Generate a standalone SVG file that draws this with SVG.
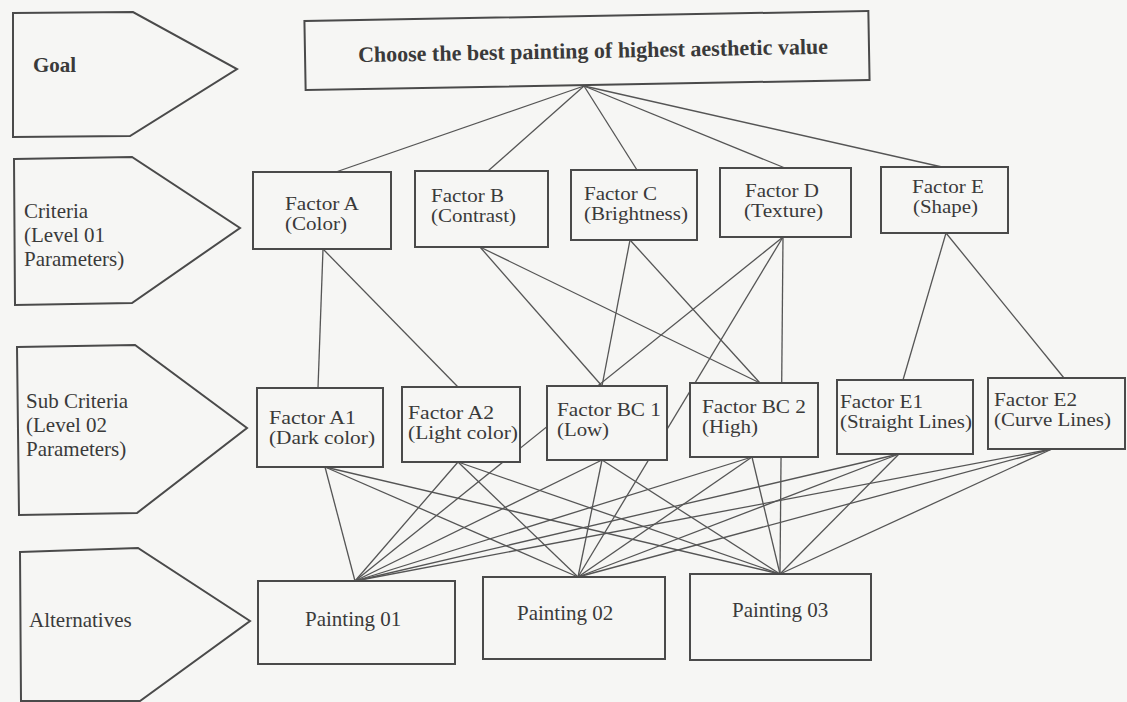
<svg xmlns="http://www.w3.org/2000/svg" width="1127" height="702" viewBox="0 0 1127 702">
<style>
.bg{fill:#f6f6f4}
.box{fill:#f6f6f4;stroke:#4a4a4a;stroke-width:2}
.lvl{fill:#f6f6f4;stroke:#4a4a4a;stroke-width:2;stroke-linejoin:miter}
.t{font-family:"Liberation Serif","Times New Roman",serif;font-size:21px;fill:#3a3a3a}
.n{font-size:18px}
.b{font-weight:bold}
#connectors line{stroke:#555;stroke-width:1.3}
</style>
<rect class="bg" x="0" y="0" width="1127" height="702"/>

<g id="connectors">
<line x1="584" y1="86" x2="333" y2="173"/>
<line x1="584" y1="86" x2="488" y2="171"/>
<line x1="584" y1="86" x2="637" y2="170"/>
<line x1="584" y1="86" x2="785" y2="168"/>
<line x1="584" y1="86" x2="942" y2="167"/>
<line x1="323" y1="249" x2="318" y2="388"/>
<line x1="323" y1="249" x2="458" y2="387"/>
<line x1="480" y1="247" x2="602" y2="386"/>
<line x1="480" y1="247" x2="760" y2="383"/>
<line x1="630" y1="240" x2="602" y2="386"/>
<line x1="630" y1="240" x2="760" y2="383"/>
<line x1="946" y1="233" x2="903" y2="380"/>
<line x1="946" y1="233" x2="1064" y2="378"/>
<line x1="783" y1="237" x2="355" y2="581"/>
<line x1="783" y1="237" x2="578" y2="577"/>
<line x1="783" y1="237" x2="780" y2="574"/>
<line x1="325" y1="467" x2="355" y2="581"/>
<line x1="325" y1="467" x2="578" y2="577"/>
<line x1="325" y1="467" x2="780" y2="574"/>
<line x1="458" y1="462" x2="355" y2="581"/>
<line x1="458" y1="462" x2="578" y2="577"/>
<line x1="458" y1="462" x2="780" y2="574"/>
<line x1="602" y1="460" x2="355" y2="581"/>
<line x1="602" y1="460" x2="578" y2="577"/>
<line x1="602" y1="460" x2="780" y2="574"/>
<line x1="752" y1="457" x2="355" y2="581"/>
<line x1="752" y1="457" x2="578" y2="577"/>
<line x1="752" y1="457" x2="780" y2="574"/>
<line x1="899" y1="454" x2="355" y2="581"/>
<line x1="899" y1="454" x2="578" y2="577"/>
<line x1="899" y1="454" x2="780" y2="574"/>
<line x1="1052" y1="449" x2="355" y2="581"/>
<line x1="1052" y1="449" x2="578" y2="577"/>
<line x1="1052" y1="449" x2="780" y2="574"/>
</g>

<g id="level-goal">
<path class="lvl" d="M13,13 L133,12 L237,69 L130,136 L13,137 Z"/>
<text class="t b" x="33" y="72">Goal</text>
</g>
<g id="level-criteria">
<path class="lvl" d="M14,159 L132,157 L240,228 L132,303 L15,305 Z"/>
<text class="t" x="24" y="218">Criteria</text>
<text class="t" x="24" y="242">(Level 01</text>
<text class="t" x="24" y="266">Parameters)</text>
</g>
<g id="level-sub">
<path class="lvl" d="M17,347 L135,345 L247,428 L137,513 L19,515 Z"/>
<text class="t" x="26" y="408">Sub Criteria</text>
<text class="t" x="26" y="432">(Level 02</text>
<text class="t" x="26" y="456">Parameters)</text>
</g>
<g id="level-alt">
<path class="lvl" d="M20,552 L138,548 L250,621 L140,701 L21,701 Z"/>
<text class="t" x="29" y="627">Alternatives</text>
</g>

<g id="goal" transform="rotate(-1.02 587 51)">
<rect class="box" x="305" y="16" width="564" height="69"/>
<text class="t b" x="593" y="58" text-anchor="middle" style="font-size:22px">Choose the best painting of highest aesthetic value</text>
</g>

<g id="factor-a">
<rect class="box" x="253" y="172" width="138" height="77"/>
<text class="t n" x="285" y="210" textLength="74" lengthAdjust="spacingAndGlyphs">Factor A</text>
<text class="t n" x="285" y="230" textLength="62" lengthAdjust="spacingAndGlyphs">(Color)</text>
</g>
<g id="factor-b">
<rect class="box" x="415" y="171" width="133" height="76"/>
<text class="t n" x="431" y="202" textLength="73" lengthAdjust="spacingAndGlyphs">Factor B</text>
<text class="t n" x="431" y="222" textLength="85" lengthAdjust="spacingAndGlyphs">(Contrast)</text>
</g>
<g id="factor-c">
<rect class="box" x="571" y="170" width="126" height="70"/>
<text class="t n" x="584" y="200" textLength="73" lengthAdjust="spacingAndGlyphs">Factor C</text>
<text class="t n" x="584" y="220" textLength="104" lengthAdjust="spacingAndGlyphs">(Brightness)</text>
</g>
<g id="factor-d">
<rect class="box" x="720" y="168" width="131" height="69"/>
<text class="t n" x="745" y="197" textLength="74" lengthAdjust="spacingAndGlyphs">Factor D</text>
<text class="t n" x="744" y="217" textLength="79" lengthAdjust="spacingAndGlyphs">(Texture)</text>
</g>
<g id="factor-e">
<rect class="box" x="881" y="167" width="127" height="66"/>
<text class="t n" x="912" y="193" textLength="72" lengthAdjust="spacingAndGlyphs">Factor E</text>
<text class="t n" x="913" y="213" textLength="65" lengthAdjust="spacingAndGlyphs">(Shape)</text>
</g>

<g id="factor-a1">
<rect class="box" x="257" y="388" width="126" height="79"/>
<text class="t n" x="269" y="424" textLength="87" lengthAdjust="spacingAndGlyphs">Factor A1</text>
<text class="t n" x="269" y="444" textLength="106" lengthAdjust="spacingAndGlyphs">(Dark color)</text>
</g>
<g id="factor-a2">
<rect class="box" x="402" y="387" width="118" height="75"/>
<text class="t n" x="408" y="419" textLength="86" lengthAdjust="spacingAndGlyphs">Factor A2</text>
<text class="t n" x="408" y="439" textLength="110" lengthAdjust="spacingAndGlyphs">(Light color)</text>
</g>
<g id="factor-bc1">
<rect class="box" x="547" y="386" width="120" height="74"/>
<text class="t n" x="557" y="416" textLength="104" lengthAdjust="spacingAndGlyphs">Factor BC 1</text>
<text class="t n" x="557" y="436" textLength="52" lengthAdjust="spacingAndGlyphs">(Low)</text>
</g>
<g id="factor-bc2">
<rect class="box" x="690" y="383" width="128" height="74"/>
<text class="t n" x="702" y="413" textLength="104" lengthAdjust="spacingAndGlyphs">Factor BC 2</text>
<text class="t n" x="702" y="433" textLength="56" lengthAdjust="spacingAndGlyphs">(High)</text>
</g>
<g id="factor-e1">
<rect class="box" x="837" y="380" width="136" height="74"/>
<text class="t n" x="840" y="408" textLength="83" lengthAdjust="spacingAndGlyphs">Factor E1</text>
<text class="t n" x="840" y="428" textLength="132" lengthAdjust="spacingAndGlyphs">(Straight Lines)</text>
</g>
<g id="factor-e2">
<rect class="box" x="988" y="378" width="137" height="71"/>
<text class="t n" x="994" y="406" textLength="83" lengthAdjust="spacingAndGlyphs">Factor E2</text>
<text class="t n" x="994" y="426" textLength="117" lengthAdjust="spacingAndGlyphs">(Curve Lines)</text>
</g>

<g id="painting-01">
<rect class="box" x="258" y="581" width="197" height="83"/>
<text class="t" x="305" y="626">Painting 01</text>
</g>
<g id="painting-02">
<rect class="box" x="483" y="577" width="182" height="82"/>
<text class="t" x="517" y="620">Painting 02</text>
</g>
<g id="painting-03">
<rect class="box" x="690" y="574" width="181" height="86"/>
<text class="t" x="732" y="617">Painting 03</text>
</g>
</svg>
